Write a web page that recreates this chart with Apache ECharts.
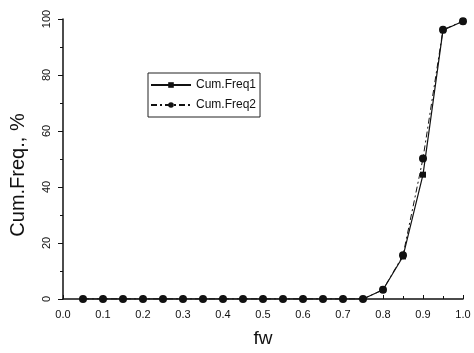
<!DOCTYPE html>
<html><head><meta charset="utf-8">
<script src="https://cdn.jsdelivr.net/npm/echarts@6/dist/echarts.min.js"></script>
<style>html,body{margin:0;padding:0;background:#fff}#c{width:474px;height:353px}</style>
</head><body><div id="c"></div>
<script>
const fw = [0.05,0.10,0.15,0.20,0.25,0.30,0.35,0.40,0.45,0.50,0.55,0.60,0.65,0.70,0.75,0.80,0.85,0.90,0.95,1.00];
const cumFreq1 = [0,0,0,0,0,0,0,0,0,0,0,0,0,0,0,3.3,15.2,44.4,96,99.2];
const cumFreq2 = [0,0,0,0,0,0,0,0,0,0,0,0,0,0,0,3.3,15.6,50.2,96.2,99.2];
const seriesNames = ['Cum.Freq1','Cum.Freq2'];
const xTitle = 'fw';
const yTitle = 'Cum.Freq., %';

const chart = echarts.init(document.getElementById('c'), null, {renderer:'canvas'});
const font = 'Arial, "Liberation Sans", sans-serif';
chart.setOption({
  animation:false,
  backgroundColor:'#fff',
  grid:{left:63,right:11,top:19,bottom:46,containLabel:false},
  graphic:[{
    type:'text', x:18, y:175, rotation:Math.PI/2,
    style:{text:yTitle,font:'20px '+font,fill:'#111',align:'center',verticalAlign:'middle'}
  }],
  legend:{
    left:148, top:73, orient:'vertical',
    itemWidth:40, itemHeight:7, itemGap:8,
    padding:[6,4,6,2],
    borderColor:'#222', borderWidth:1,
    textStyle:{fontFamily:font,fontSize:12,color:'#111'},
    data:seriesNames
  },
  xAxis:{
    type:'value', min:0, max:1, interval:0.1,
    name:xTitle, nameLocation:'middle', nameGap:30,
    nameTextStyle:{fontFamily:font,fontSize:19,color:'#111'},
    axisLine:{lineStyle:{color:'#111',width:1.5}},
    axisTick:{inside:true,length:4,lineStyle:{color:'#111'}},
    minorTick:{show:true,splitNumber:2,length:3,lineStyle:{color:'#111'}},
    splitLine:{show:false},
    axisLabel:{fontFamily:font,fontSize:11,color:'#111',margin:10,formatter:v=>v.toFixed(1)}
  },
  yAxis:{
    type:'value', min:0, max:100, interval:20,
    axisLine:{show:true,lineStyle:{color:'#111',width:1.5}},
    axisTick:{inside:false,length:5,lineStyle:{color:'#111'}},
    minorTick:{show:true,splitNumber:2,length:3,lineStyle:{color:'#111'}},
    splitLine:{show:false},
    axisLabel:{fontFamily:font,fontSize:11,color:'#111',rotate:90,margin:11}
  },
  series:[
    {name:seriesNames[0],type:'line',data:fw.map((x,i)=>[x,cumFreq1[i]]),
     symbol:'rect',symbolSize:6,itemStyle:{color:'#111'},
     lineStyle:{color:'#111',width:1.2,type:'solid'}},
    {name:seriesNames[1],type:'line',data:fw.map((x,i)=>[x,cumFreq2[i]]),
     symbol:'circle',symbolSize:8,itemStyle:{color:'#111'},
     lineStyle:{color:'#111',width:1,type:[6,3,2,3]}}
  ]
});
</script></body></html>
